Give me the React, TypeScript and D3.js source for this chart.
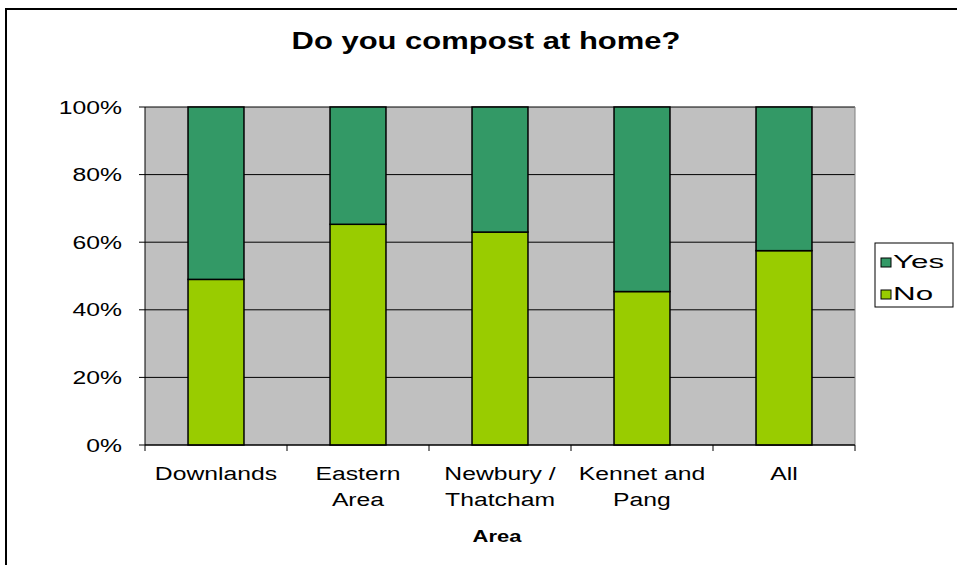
import React from "react";
import * as d3 from "d3";

const categories = ["Downlands", "Eastern Area", "Newbury / Thatcham", "Kennet and Pang", "All"];
const categoryLines = [["Downlands"], ["Eastern", "Area"], ["Newbury /", "Thatcham"], ["Kennet and", "Pang"], ["All"]];
const noValues = [49, 65.3, 63, 45.4, 57.5];
const yesValues = [51, 34.7, 37, 54.6, 42.5];
const yTicks = [0, 20, 40, 60, 80, 100];
const seriesNames = ["Yes", "No"];
const seriesColors = ["#339966", "#99CC00"];

const W = 957, H = 565;
const left = 145, right = 855, top = 107, bottom = 445;
const SX = 1.33;
const FONT = "Arial, 'Liberation Sans', sans-serif";

function SText({ x, y, children, anchor = "middle", size = 18.6, weight = "normal", sx = SX }: any) {
  return (
    <text
      transform={`translate(${x},${y}) scale(${sx},1)`}
      textAnchor={anchor}
      fontSize={size}
      fontWeight={weight}
      fontFamily={FONT}
      fill="#000"
    >
      {children}
    </text>
  );
}

export default function App() {
  const x = d3.scaleBand<string>().domain(categories).range([left, right]).paddingInner(0.606).paddingOuter(0.303);
  const y = d3.scaleLinear().domain([0, 100]).range([bottom, top]);
  const step = x.step();

  return (
    <svg width={W} height={H} style={{ position: "absolute", left: 0, top: 0, background: "#fff" }}>
      <rect x={0} y={0} width={W} height={H} fill="#fff" />
      {/* outer chart border */}
      <rect x={6} y={9} width={980} height={600} fill="none" stroke="#000" strokeWidth={2} />
      {/* title */}
      <SText x={486} y={49} size={23.3} weight="bold">Do you compost at home?</SText>

      {/* plot area */}
      <rect x={left} y={top} width={right - left} height={bottom - top} fill="#C0C0C0" />
      {yTicks.map((t) => (
        <line key={"g" + t} x1={left} x2={right} y1={y(t)} y2={y(t)} stroke="#000" strokeWidth={1} />
      ))}
      <line x1={right} x2={right} y1={top} y2={bottom} stroke="#808080" strokeWidth={1} />

      {/* bars */}
      {categories.map((c, i) => {
        const bx = x(c)!;
        const bw = x.bandwidth();
        const no = noValues[i];
        const yes = yesValues[i];
        return (
          <g key={c}>
            <rect x={bx} y={y(no)} width={bw} height={y(0) - y(no)} fill={seriesColors[1]} stroke="#000" strokeWidth={1.5} />
            <rect x={bx} y={y(no + yes)} width={bw} height={y(no) - y(no + yes)} fill={seriesColors[0]} stroke="#000" strokeWidth={1.5} />
          </g>
        );
      })}

      {/* axes */}
      <line x1={left} x2={left} y1={top} y2={bottom} stroke="#000" strokeWidth={1} />
      <line x1={left} x2={right} y1={bottom} y2={bottom} stroke="#000" strokeWidth={1} />
      {yTicks.map((t) => (
        <g key={"t" + t}>
          <line x1={left - 6} x2={left} y1={y(t)} y2={y(t)} stroke="#000" />
          <SText x={122} y={y(t) + 6.6} anchor="end">{t + "%"}</SText>
        </g>
      ))}
      {d3.range(categories.length + 1).map((k) => (
        <line key={"xt" + k} x1={left + k * step} x2={left + k * step} y1={bottom} y2={bottom + 6} stroke="#000" />
      ))}
      {categories.map((c, i) => (
        <g key={"l" + c}>
          {categoryLines[i].map((ln, j) => (
            <SText key={j} x={x(c)! + x.bandwidth() / 2} y={480 + j * 26}>{ln}</SText>
          ))}
        </g>
      ))}
      <SText x={497} y={542} size={16.5} weight="bold">Area</SText>

      {/* legend */}
      <rect x={875} y={243} width={78} height={64} fill="#fff" stroke="#000" strokeWidth={1} />
      {seriesNames.map((s, i) => (
        <g key={s}>
          <rect x={881} y={258 + i * 32} width={10} height={9} fill={seriesColors[i]} stroke="#000" strokeWidth={1} />
          <SText x={893} y={268 + i * 32} anchor="start" size={19} sx={1.65}>{s}</SText>
        </g>
      ))}
    </svg>
  );
}
